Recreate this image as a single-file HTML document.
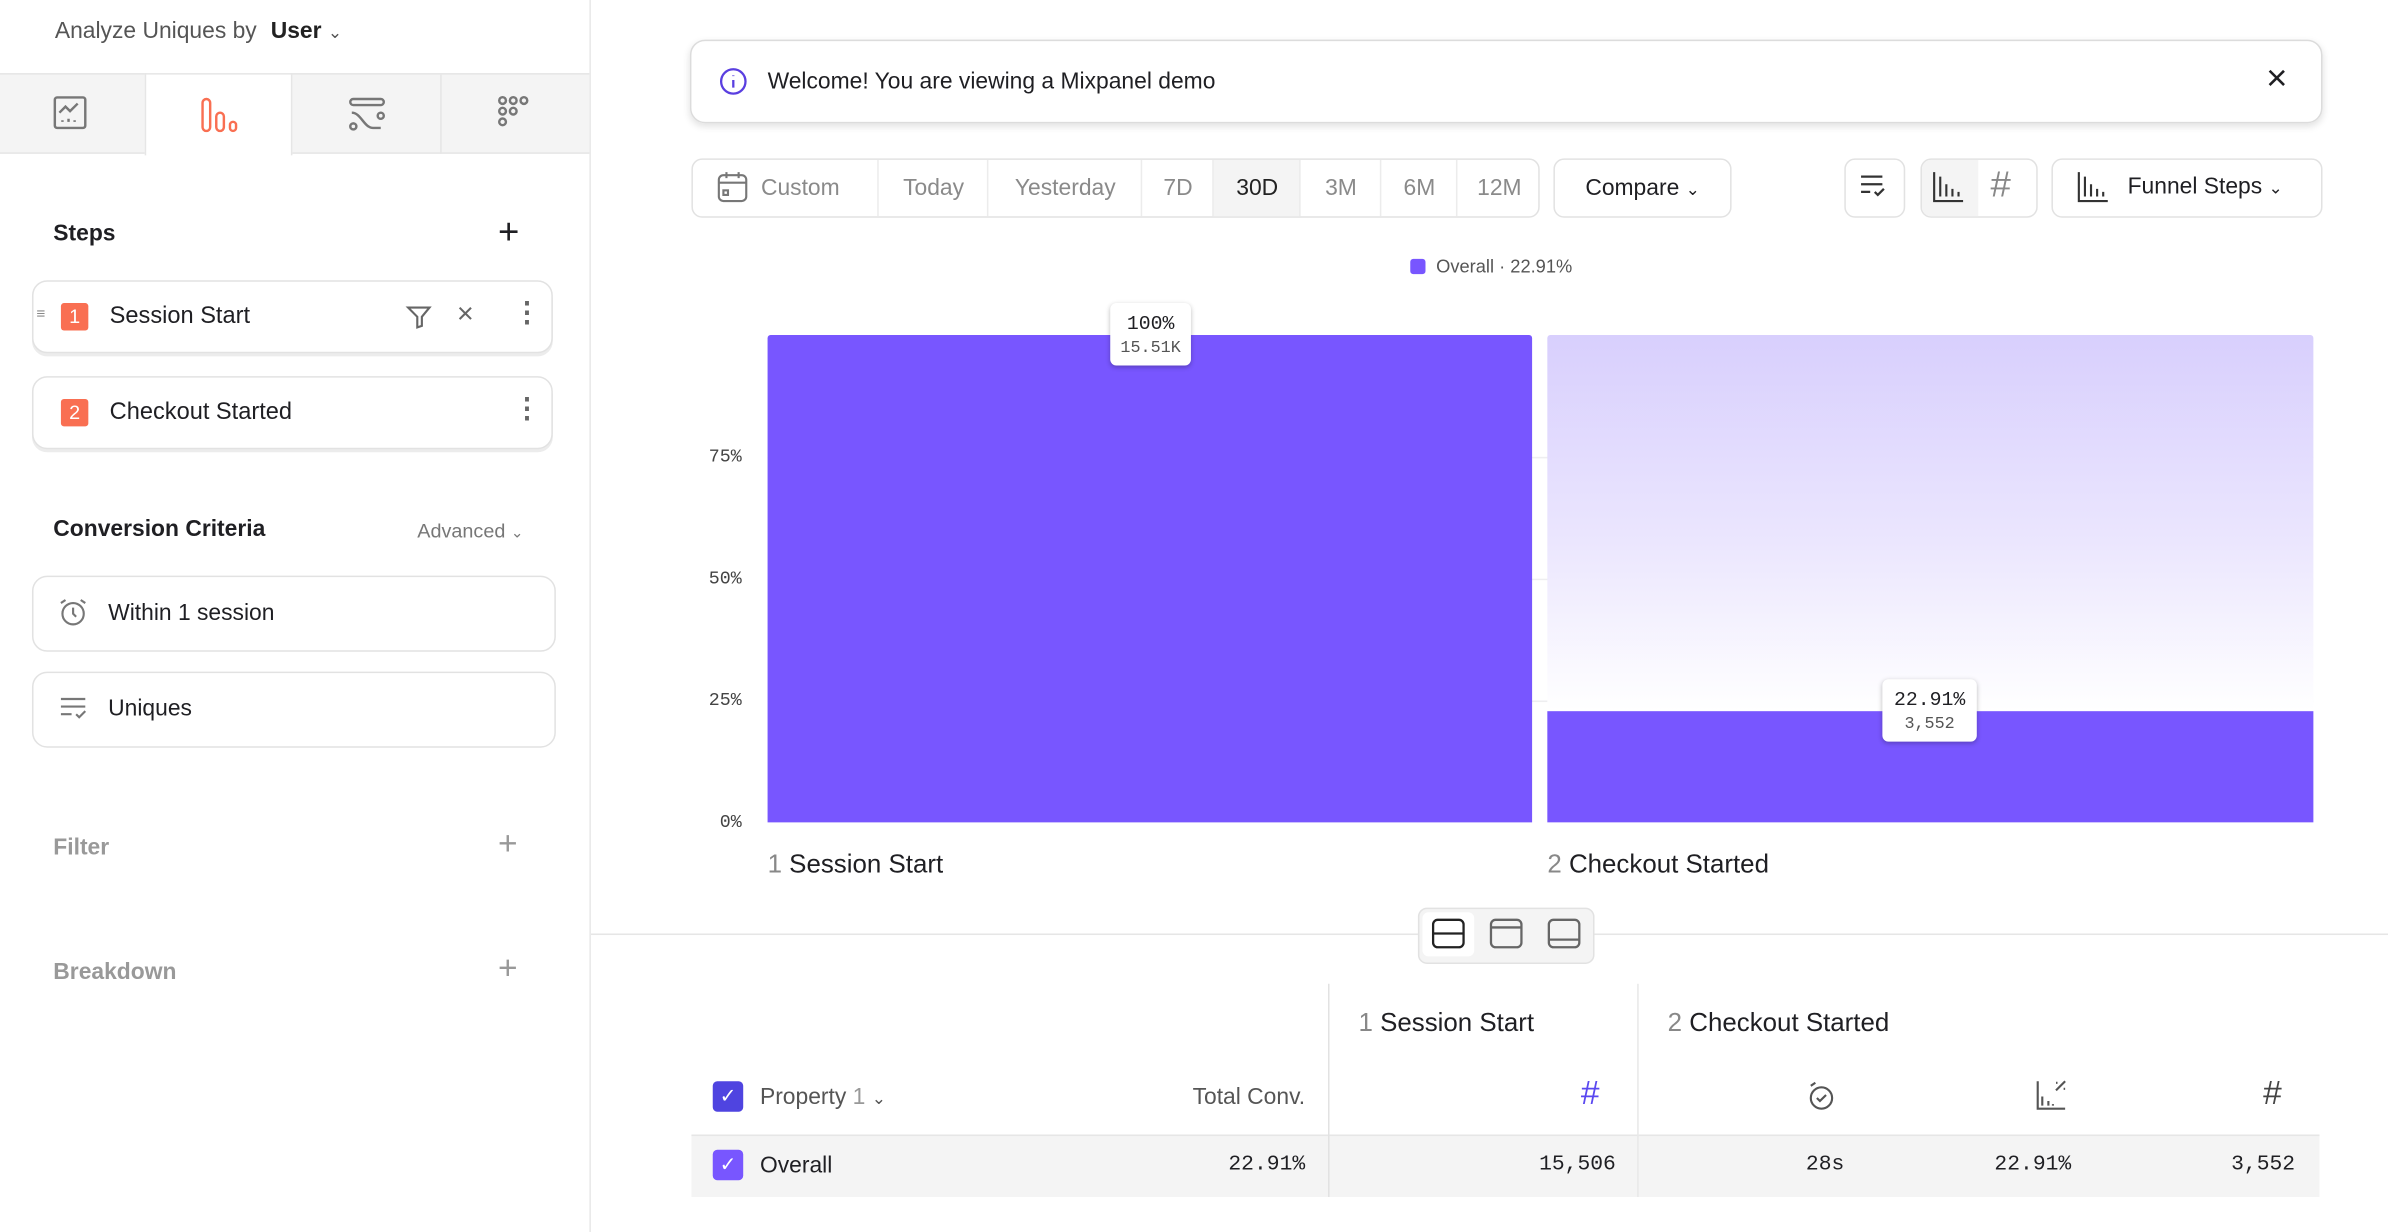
<!DOCTYPE html>
<html><head><meta charset="utf-8"><style>
html,body{margin:0;padding:0;background:#fff;overflow:hidden}
body{width:2388px;height:1232px}
#w{position:absolute;left:0;top:0;width:1568px;height:809px;transform:scale(1.52296,1.52287);transform-origin:0 0;font-family:"Liberation Sans",sans-serif;color:#1f1f23}
.a{position:absolute}
.t{position:absolute;white-space:nowrap;line-height:1}
.mono{font-family:"Liberation Mono",monospace}
.card{position:absolute;border:1px solid #e2e2e2;border-radius:10px;background:#fff;box-shadow:0 2px 0 #ececec}
.badge{position:absolute;width:18px;height:18px;background:#f96f52;color:#fff;font-size:13px;text-align:center;line-height:18px;border-radius:2px}
.seg{position:absolute;top:0;height:37px;line-height:37px;text-align:center;font-size:15px;color:#8a8a8a;border-left:1px solid #ececec}
.btn{position:absolute;border:1px solid #e2e2e2;border-radius:7px;background:#fff}
.grid{position:absolute;left:504px;width:1015px;height:1px;background:#eeeef0}
.lbl{position:absolute;background:#fff;border-radius:4px;box-shadow:0 1px 3px rgba(0,0,0,.25);text-align:center;font-family:"Liberation Mono",monospace}
</style></head><body><div id="w">
<!-- left panel -->
<div class="a" style="left:387px;top:0;width:1px;height:809px;background:#e8e8e8"></div>
<div class="t" style="left:36px;top:13px;font-size:15px;color:#555">Analyze Uniques by <span style="color:#222;font-weight:bold;margin-left:5px">User</span> <span style="font-size:11px">⌄</span></div>
<div class="a" style="left:0;top:48px;width:387px;height:53px;background:#f4f4f4;border-top:1px solid #e6e6e6;border-bottom:1px solid #e6e6e6;box-sizing:border-box"></div>
<div class="a" style="left:95px;top:48px;width:97px;height:54px;background:#fff;border-left:1px solid #e6e6e6;border-right:1px solid #e6e6e6;border-top:1px solid #e6e6e6;box-sizing:border-box"></div>
<div class="a" style="left:289px;top:49px;width:1px;height:52px;background:#e6e6e6"></div>
<svg class="a" style="left:34px;top:62px" width="24" height="24" viewBox="0 0 24 24" fill="none" stroke="#777" stroke-width="1.6"><rect x="2" y="2" width="20" height="20" rx="1.5"/><path d="M5 12l4-4 3 3 5-5"/><path d="M7 18v-1M11 18v-2M15 18v-1"/></svg>
<svg class="a" style="left:131px;top:62px" width="26" height="26" viewBox="0 0 26 26" fill="none" stroke="#f96f52" stroke-width="1.6"><rect x="2" y="3" width="5" height="21" rx="2.5"/><rect x="11" y="12" width="5" height="12" rx="2.5"/><rect x="20" y="18" width="4" height="6" rx="2"/></svg>
<svg class="a" style="left:228px;top:62px" width="26" height="26" viewBox="0 0 26 26" fill="none" stroke="#777" stroke-width="1.6"><rect x="2" y="3" width="22" height="4" rx="2"/><path d="M3 12c6 0 8 10 14 10h5"/><circle cx="22" cy="14" r="2"/><circle cx="4" cy="21" r="2"/></svg>
<svg class="a" style="left:325px;top:62px" width="26" height="26" viewBox="0 0 26 26" fill="none" stroke="#777" stroke-width="1.6"><circle cx="5" cy="4" r="2.2"/><circle cx="12" cy="4" r="2.2"/><circle cx="19" cy="4" r="2.2"/><circle cx="5" cy="11" r="2.2"/><circle cx="12" cy="11" r="2.2"/><circle cx="5" cy="18" r="2.2"/></svg>
<div class="t" style="left:35px;top:146px;font-size:15px;font-weight:bold">Steps</div>
<div class="t" style="left:327px;top:141px;font-size:24px;font-weight:300">+</div>
<div class="card" style="left:21px;top:184px;width:340px;height:46px"></div>
<div class="t" style="left:24px;top:202px;font-size:10px;color:#888">≡</div>
<div class="badge" style="left:40px;top:199px">1</div>
<div class="t" style="left:72px;top:200px;font-size:15.5px">Session Start</div>
<svg class="a" style="left:266px;top:199px" width="18" height="18" viewBox="0 0 18 18" fill="none" stroke="#666" stroke-width="1.4"><path d="M2 3h14l-5 6v6l-3 1V9z"/></svg>
<div class="t" style="left:300px;top:197px;font-size:19px;color:#666">×</div>
<div class="t" style="left:337px;top:196px;font-size:18px;color:#666;font-weight:bold">⋮</div>
<div class="card" style="left:21px;top:247px;width:340px;height:46px"></div>
<div class="badge" style="left:40px;top:262px">2</div>
<div class="t" style="left:72px;top:263px;font-size:15.5px">Checkout Started</div>
<div class="t" style="left:337px;top:259px;font-size:18px;color:#666;font-weight:bold">⋮</div>
<div class="t" style="left:35px;top:340px;font-size:15px;font-weight:bold">Conversion Criteria</div>
<div class="t" style="left:274px;top:342px;font-size:13px;color:#777">Advanced <span style="font-size:10px">⌄</span></div>
<div class="card" style="left:21px;top:378px;width:342px;height:48px;box-shadow:none"></div>
<svg class="a" style="left:38px;top:392px" width="20" height="20" viewBox="0 0 20 20" fill="none" stroke="#777" stroke-width="1.4"><circle cx="10" cy="11" r="7"/><path d="M10 7v4l2 2M2 4l3-2M18 4l-3-2"/></svg>
<div class="t" style="left:71px;top:395px;font-size:15px">Within 1 session</div>
<div class="card" style="left:21px;top:441px;width:342px;height:48px;box-shadow:none"></div>
<svg class="a" style="left:38px;top:456px" width="20" height="18" viewBox="0 0 20 18" fill="none" stroke="#777" stroke-width="1.4"><path d="M2 3h16M2 8h16M2 13h7M12 13l2 2 4-4"/></svg>
<div class="t" style="left:71px;top:458px;font-size:15px">Uniques</div>
<div class="t" style="left:35px;top:549px;font-size:15px;font-weight:bold;color:#999">Filter</div>
<div class="t" style="left:327px;top:543px;font-size:22px;font-weight:300;color:#999">+</div>
<div class="t" style="left:35px;top:631px;font-size:15px;font-weight:bold;color:#999">Breakdown</div>
<div class="t" style="left:327px;top:625px;font-size:22px;font-weight:300;color:#999">+</div>

<!-- banner -->
<div class="a" style="left:453px;top:26px;width:1070px;height:53px;border:1px solid #dcdcdc;border-radius:10px;box-shadow:0 2px 5px rgba(0,0,0,.12)"></div>
<svg class="a" style="left:472px;top:44px" width="19" height="19" viewBox="0 0 19 19" fill="none" stroke="#5a3fe0" stroke-width="1.5"><circle cx="9.5" cy="9.5" r="8"/><path d="M9.5 8.5v5M9.5 5.5v.5"/></svg>
<div class="t" style="left:504px;top:46px;font-size:15px">Welcome! You are viewing a Mixpanel demo</div>
<div class="t" style="left:1488px;top:40px;font-size:24px">×</div>

<!-- toolbar -->
<div class="btn" style="left:454px;top:104px;width:555px;height:37px;overflow:hidden">
<div class="seg" style="left:0;width:121px;border-left:none;padding-left:20px;box-sizing:border-box">Custom</div>
<div class="seg" style="left:121px;width:72px">Today</div>
<div class="seg" style="left:193px;width:101px">Yesterday</div>
<div class="seg" style="left:294px;width:47px">7D</div>
<div class="seg" style="left:341px;width:57px;background:#f4f4f4;color:#222">30D</div>
<div class="seg" style="left:398px;width:53px">3M</div>
<div class="seg" style="left:451px;width:50px">6M</div>
<div class="seg" style="left:501px;width:55px">12M</div>
</div>
<svg class="a" style="left:470px;top:112px" width="22" height="22" viewBox="0 0 22 22" fill="none" stroke="#777" stroke-width="1.4"><rect x="2" y="3" width="18" height="17" rx="3"/><path d="M2 8h18M7 1v4M15 1v4"/><rect x="5" y="13" width="3" height="3"/></svg>
<div class="btn" style="left:1020px;top:104px;width:115px;height:37px;line-height:37px;text-align:center;font-size:15px">Compare <span style="font-size:11px">⌄</span></div>
<div class="btn" style="left:1211px;top:104px;width:38px;height:37px"></div>
<svg class="a" style="left:1220px;top:113px" width="20" height="18" viewBox="0 0 20 18" fill="none" stroke="#333" stroke-width="1.5"><path d="M2 3h14M2 8h14M2 13h6M11 13l2 2 4-4"/></svg>
<div class="btn" style="left:1261px;top:104px;width:75px;height:37px;overflow:hidden"><div class="a" style="left:0;top:0;width:37px;height:37px;background:#f4f4f4"></div></div>
<svg class="a" style="left:1268px;top:112px" width="22" height="22" viewBox="0 0 22 22" fill="none" stroke="#333" stroke-width="1.4"><path d="M2 1v19h19M6 4v13M10 9v8M14 12v5M18 14v3"/></svg>
<div class="t" style="left:1307px;top:110px;font-size:24px;color:#888;font-weight:300">#</div>
<div class="btn" style="left:1347px;top:104px;width:176px;height:37px"></div>
<svg class="a" style="left:1363px;top:112px" width="22" height="22" viewBox="0 0 22 22" fill="none" stroke="#333" stroke-width="1.4"><path d="M2 1v19h19M6 4v13M10 9v8M14 12v5M18 14v3"/></svg>
<div class="t" style="left:1397px;top:115px;font-size:15px">Funnel Steps <span style="font-size:11px">⌄</span></div>

<!-- legend -->
<div class="a" style="left:926px;top:170px;width:10px;height:10px;background:#7856ff;border-radius:2px"></div>
<div class="t" style="left:943px;top:169px;font-size:12px;color:#555">Overall · 22.91%</div>

<!-- chart -->
<div class="grid" style="top:300px"></div><div class="grid" style="top:380px"></div><div class="grid" style="top:460px"></div>
<div class="t mono" style="left:440px;width:47px;text-align:right;top:294px;font-size:12px;color:#444">75%</div>
<div class="t mono" style="left:440px;width:47px;text-align:right;top:374px;font-size:12px;color:#444">50%</div>
<div class="t mono" style="left:440px;width:47px;text-align:right;top:454px;font-size:12px;color:#444">25%</div>
<div class="t mono" style="left:440px;width:47px;text-align:right;top:534px;font-size:12px;color:#444">0%</div>
<div class="a" style="left:504px;top:220px;width:502px;height:320px;background:#7856ff;border-radius:2px 2px 0 0"></div>
<div class="a" style="left:1016px;top:220px;width:503px;height:247px;background:linear-gradient(#d8cffd,#ebe6fe 55%,#fff 100%);border-radius:2px 2px 0 0"></div>
<div class="a" style="left:1016px;top:467px;width:503px;height:73px;background:#7856ff"></div>
<div class="lbl" style="left:729px;top:199px;width:53px;height:41px"><div style="font-size:13px;margin-top:6px">100%</div><div style="font-size:11px;color:#555;margin-top:3px">15.51K</div></div>
<div class="lbl" style="left:1236px;top:446px;width:62px;height:41px"><div style="font-size:13px;margin-top:6px">22.91%</div><div style="font-size:11px;color:#555;margin-top:3px">3,552</div></div>
<div class="t" style="left:504px;top:559px;font-size:17px"><span style="color:#888">1</span> Session Start</div>
<div class="t" style="left:1016px;top:559px;font-size:17px"><span style="color:#888">2</span> Checkout Started</div>

<!-- divider and toggle -->
<div class="a" style="left:388px;top:613px;width:1180px;height:1px;background:#e6e6e6"></div>
<div class="a" style="left:931px;top:596px;width:114px;height:35px;background:#f4f4f4;border:1px solid #e2e2e2;border-radius:6px"></div>
<div class="a" style="left:934px;top:599px;width:34px;height:29px;background:#fff;border-radius:4px"></div>
<svg class="a" style="left:940px;top:603px" width="22" height="20" viewBox="0 0 22 20" fill="none" stroke="#222" stroke-width="1.5"><rect x="1" y="1" width="20" height="18" rx="3"/><path d="M1 10h20"/></svg>
<svg class="a" style="left:978px;top:603px" width="22" height="20" viewBox="0 0 22 20" fill="none" stroke="#666" stroke-width="1.5"><rect x="1" y="1" width="20" height="18" rx="3"/><path d="M1 6h20"/></svg>
<svg class="a" style="left:1016px;top:603px" width="22" height="20" viewBox="0 0 22 20" fill="none" stroke="#666" stroke-width="1.5"><rect x="1" y="1" width="20" height="18" rx="3"/><path d="M1 14h20"/></svg>

<!-- table -->
<div class="a" style="left:454px;top:745px;width:1069px;height:41px;background:#f4f4f4;border-top:1px solid #e6e6e6;box-sizing:border-box"></div>
<div class="a" style="left:872px;top:646px;width:1px;height:140px;background:#e2e2e2"></div>
<div class="a" style="left:1075px;top:646px;width:1px;height:140px;background:#e8e8e8"></div>
<div class="t" style="left:892px;top:663px;font-size:17px"><span style="color:#888">1</span> Session Start</div>
<div class="t" style="left:1095px;top:663px;font-size:17px"><span style="color:#888">2</span> Checkout Started</div>
<div class="a" style="left:468px;top:710px;width:20px;height:20px;background:#4f44e0;border-radius:3px;color:#fff;font-size:13px;text-align:center;line-height:20px">✓</div>
<div class="t" style="left:499px;top:713px;font-size:15px;color:#555">Property <span style="color:#999">1</span> <span style="font-size:11px">⌄</span></div>
<div class="t" style="left:700px;width:157px;text-align:right;top:713px;font-size:15px;color:#555">Total Conv.</div>
<div class="t" style="left:1038px;top:707px;font-size:22px;color:#5a48f0">#</div>
<svg class="a" style="left:1186px;top:709px" width="20" height="22" viewBox="0 0 20 22" fill="none" stroke="#555" stroke-width="1.4"><circle cx="10" cy="12" r="7"/><path d="M7 12l2 2 4-4M3 4l3-2"/></svg>
<svg class="a" style="left:1336px;top:708px" width="22" height="22" viewBox="0 0 22 22" fill="none" stroke="#555" stroke-width="1.4"><path d="M2 2v18h18M5 12v6M9 15v3M12 17v1M14 8l6-6M14 3h1M19 7h1"/></svg>
<div class="t" style="left:1486px;top:707px;font-size:22px;color:#444">#</div>
<div class="a" style="left:468px;top:755px;width:20px;height:20px;background:#7856ff;border-radius:3px;color:#fff;font-size:13px;text-align:center;line-height:20px">✓</div>
<div class="t" style="left:499px;top:758px;font-size:15px">Overall</div>
<div class="t mono" style="left:700px;width:157px;text-align:right;top:758px;font-size:14px">22.91%</div>
<div class="t mono" style="left:900px;width:161px;text-align:right;top:758px;font-size:14px">15,506</div>
<div class="t mono" style="left:1100px;width:111px;text-align:right;top:758px;font-size:14px">28s</div>
<div class="t mono" style="left:1220px;width:140px;text-align:right;top:758px;font-size:14px">22.91%</div>
<div class="t mono" style="left:1380px;width:127px;text-align:right;top:758px;font-size:14px">3,552</div>
</div></body></html>
